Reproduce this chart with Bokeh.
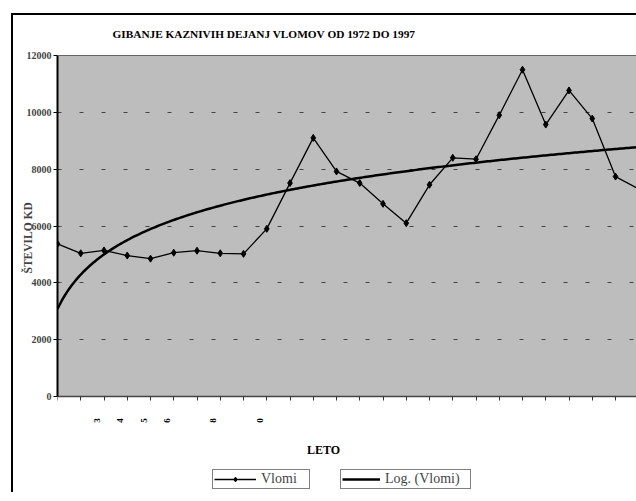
import numpy as np
from bokeh.plotting import figure
from bokeh.models import (Range1d, FixedTicker, Legend, LegendItem, ColumnDataSource,
                          BoxAnnotation, Span, Title)
from bokeh.core.properties import value
from bokeh.embed import file_html
from bokeh.resources import INLINE

# ---- data ----
years = list(range(1972, 1998))
vlomi = [5370, 5040, 5140, 4960, 4850, 5060, 5130, 5040, 5020, 5900,
         7510, 9100, 7920, 7510, 6780, 6100, 7450, 8400, 8350, 9900,
         11500, 9570, 10770, 9780, 7740, 7300]
y_ticks = [0, 2000, 4000, 6000, 8000, 10000, 12000]
x_label_years = [1973, 1974, 1975, 1976, 1978, 1980]
x_label_texts = ["3", "4", "5", "6", "8", "0"]

title_text = "GIBANJE KAZNIVIH DEJANJ VLOMOV OD 1972 DO 1997"
y_title = "ŠTEVILO KD"
x_title = "LETO"
legend_labels = ["Vlomi", "Log. (Vlomi)"]

# logarithmic trendline (Excel style: x = 1..n)
idx = np.arange(1, len(vlomi) + 1)
b, a = np.polyfit(np.log(idx), np.array(vlomi, dtype=float), 1)
tx = np.linspace(1, len(vlomi) + 0.5, 300)
trend_x = years[0] + tx - 1
trend_y = a + b * np.log(tx)

SERIF = "Liberation Serif"

# ---- geometry (pixels) ----
FRAME_W = 579          # plot frame width
TOP_PAD = 40           # pixels above the 12000 line (title area)
BOTTOM_PAD = 96        # pixels below the 0 line (labels / legend area)
PLOT_H = 341           # pixels for 0..12000
X_STEP = 23.25         # pixels per year
Y_MAX = 12000
unit_per_px = Y_MAX / PLOT_H
FRAME_H = TOP_PAD + PLOT_H + BOTTOM_PAD
y_start = -BOTTOM_PAD * unit_per_px
y_end = Y_MAX + TOP_PAD * unit_per_px
x_start = years[0]
x_end = x_start + FRAME_W / X_STEP

p = figure(frame_width=FRAME_W, frame_height=FRAME_H, output_backend="svg",
           toolbar_location=None,
           x_range=Range1d(x_start, x_end), y_range=Range1d(y_start, y_end),
           min_border_left=44, min_border_right=0, min_border_top=0,
           min_border_bottom=0, margin=(13, 0, 0, 11))
p.styles = {"border-top": "2px solid black", "border-left": "2px solid black"}

p.background_fill_color = "white"
p.border_fill_color = "white"
p.outline_line_color = None

# gray plot area (0..12000)
p.add_layout(BoxAnnotation(bottom=0, top=Y_MAX, fill_color="#bdbdbd", fill_alpha=1,
                           line_color=None, level="image"))
p.add_layout(Span(location=Y_MAX, dimension="width", line_color="#666666", line_width=1))

# grid
p.xgrid.visible = False
p.ygrid.ticker = FixedTicker(ticks=y_ticks[1:-1])
p.ygrid.grid_line_color = "#444444"
p.ygrid.grid_line_dash = "4 18"
p.ygrid.grid_line_width = 1

# y axis
ya = p.yaxis[0]
ya.ticker = FixedTicker(ticks=y_ticks)
ya.bounds = (0, Y_MAX)
ya.major_label_text_font = SERIF
ya.major_label_text_font_style = "bold"
ya.major_label_text_font_size = "10px"
ya.major_label_standoff = 2
ya.major_tick_out = 4
ya.major_tick_in = 0
ya.minor_tick_line_color = None
ya.axis_line_color = "black"
ya.axis_line_width = 2
ya.major_tick_line_color = "black"

# y axis title as a left-side title (so it can sit beside the 0..12000 part)
ytitle = Title(text=y_title, align="left", vertical_align="bottom",
               offset=219, standoff=-20, text_font=SERIF, text_font_style="bold",
               text_font_size="11.5px")
p.add_layout(ytitle, "left")

# x axis at y = 0, ticks for each year
xa = p.xaxis[0]
xa.fixed_location = 0
xa.ticker = FixedTicker(ticks=[], minor_ticks=years)
xa.major_label_standoff = 0
xa.major_tick_line_color = None
xa.minor_tick_out = 4
xa.minor_tick_in = 0
xa.minor_tick_line_color = "#333333"
xa.axis_line_color = "#444444"
xa.axis_line_width = 1.5

# chart title (top area of the frame)
p.text(x=[x_start + (112 - 57) / X_STEP], y=[Y_MAX + 22 * unit_per_px], text=[title_text],
       text_align="left", text_baseline="middle", text_font=value(SERIF),
       text_font_style="bold", text_font_size="11.3px", text_color="black")

# x tick digits and axis title (drawn below the zero line)
digit_y = -24 * unit_per_px
p.text(x=[yv + 0.7 for yv in x_label_years], y=[digit_y] * len(x_label_texts),
       text=x_label_texts, angle=np.pi / 2, text_align="center", text_baseline="middle",
       text_font=value(SERIF), text_font_style="bold", text_font_size="9px",
       text_color="black")
p.text(x=[x_start + (323 - 57) / X_STEP], y=[-53 * unit_per_px], text=[x_title],
       text_align="center", text_baseline="middle", text_font=value(SERIF),
       text_font_style="bold", text_font_size="12px", text_color="black")

src = ColumnDataSource(dict(x=years, y=vlomi))
line_r = p.line("x", "y", source=src, line_color="black", line_width=1.3)
mark_r = p.scatter("x", "y", source=src, marker="diamond", size=7,
                   fill_color="black", line_color="black")
trend_r = p.line(trend_x, trend_y, line_color="black", line_width=2.5)

def make_legend(items, loc, glyph_w, label_w):
    lg = Legend(items=items, location=loc, orientation="horizontal")
    lg.border_line_color = "black"
    lg.border_line_width = 1.5
    lg.background_fill_color = "white"
    lg.background_fill_alpha = 1
    lg.label_text_font = SERIF
    lg.label_text_font_size = "14px"
    lg.glyph_width = glyph_w
    lg.glyph_height = 12
    lg.label_height = 12
    lg.label_width = label_w
    lg.label_standoff = 5
    lg.padding = 1
    lg.margin = 0
    lg.spacing = 0
    return lg

p.add_layout(make_legend([LegendItem(label=legend_labels[0], renderers=[line_r, mark_r])],
                         (155, 3), 42, 47))
p.add_layout(make_legend([LegendItem(label=legend_labels[1], renderers=[trend_r])],
                         (283, 3), 38, 84))

open("out.html", "w").write(file_html(p, INLINE))
